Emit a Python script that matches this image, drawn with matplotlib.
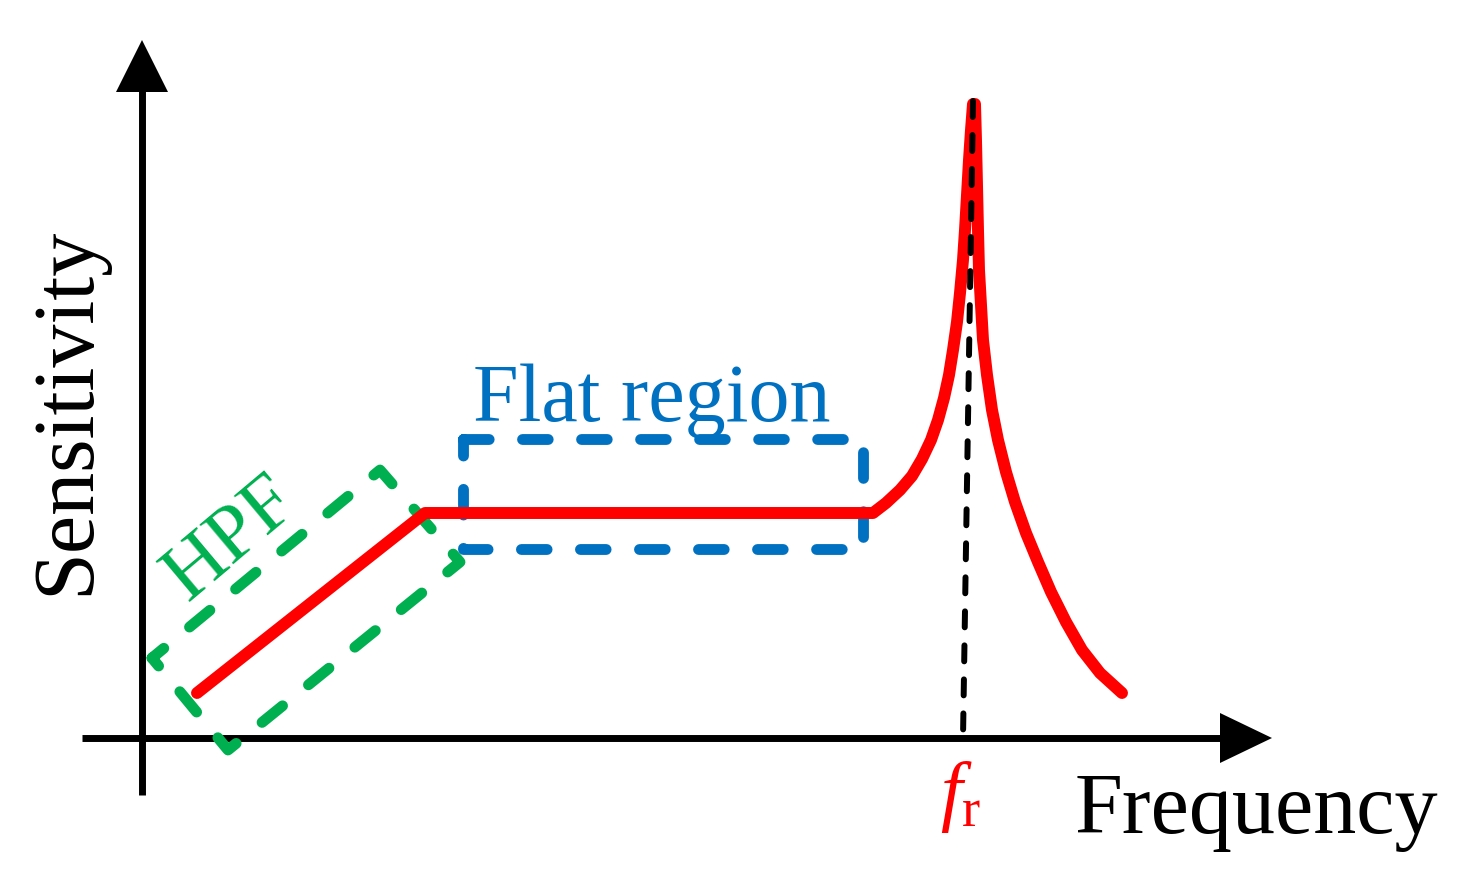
import matplotlib
matplotlib.use("Agg")
import matplotlib.pyplot as plt
import numpy as np

plt.rcParams['font.family'] = ['Liberation Serif', 'DejaVu Serif']
plt.rcParams['mathtext.fontset'] = 'custom'
plt.rcParams['mathtext.rm'] = 'Liberation Serif'
plt.rcParams['mathtext.it'] = 'Liberation Serif:italic'
plt.rcParams['lines.scale_dashes'] = False

# ---- schematic data (arbitrary units; origin at the axes crossing) ----
resp_x = [55, 283, 731, 744, 758, 770, 780, 789, 796, 802, 807, 811, 815, 818,
          821, 823, 825, 827, 829, 831,
          833, 834, 835, 836, 837, 839, 841, 845, 850, 856, 864, 873, 884, 896,
          909, 924, 940, 958, 980]
resp_y = [45, 225, 225, 235, 248, 262, 279, 298, 318, 340, 363, 388, 416, 445,
          478, 508, 543, 578, 608, 634,
          634, 598, 553, 508, 468, 433, 398, 363, 328, 298, 266, 236, 205, 176,
          146, 116, 88, 65, 45]

fr_x = [831, 821]          # resonance marker line
fr_y = [637, 0]

flat_box_x = [321, 721, 721, 321, 321]
flat_box_y = [299, 299, 189, 189, 299]

hpf_box_x = [10, 238, 318, 86, 10]
hpf_box_y = [80, 268, 176, -12, 80]

x_label = "Frequency"
y_label = "Sensitivity"
flat_label = "Flat region"
hpf_label = "HPF"
fr_label = r"$f_{\mathrm{r}}$"

RED = '#FF0000'
BLUE = '#0070C0'
GREEN = '#00B050'

fig = plt.figure(figsize=(14.62, 8.88), dpi=100)
ax = fig.add_axes([0, 0, 1, 1])
ax.set_xlim(-142, 1320)
ax.set_ylim(-150, 738)
ax.axis('off')

# axes with arrowheads
ax.plot([0, 0], [-57, 650], color='k', lw=5, solid_capstyle='butt')
ax.fill([-26, 26, 0], [646, 646, 698], color='k', lw=0)
ax.plot([-60, 1082], [0, 0], color='k', lw=5, solid_capstyle='butt')
ax.fill([1078, 1078, 1130], [-25, 25, 0], color='k', lw=0)

# dashed boxes
ax.plot(hpf_box_x, hpf_box_y, color=GREEN, lw=7.8, linestyle=(8, (19, 24)),
        dash_capstyle='round', dash_joinstyle='round')
ax.plot(flat_box_x, flat_box_y, color=BLUE, lw=7.8, linestyle=(0, (18.5, 24)),
        dash_capstyle='round', dash_joinstyle='round')

# response curve
ax.plot(resp_x, resp_y, color=RED, lw=8.6, solid_capstyle='round',
        solid_joinstyle='round', zorder=3)

# resonance marker
ax.plot(fr_x, fr_y, color='k', lw=4.3, linestyle=(0, (11.5, 13)),
        dash_capstyle='round', zorder=4)

# text
ax.text(-54, 327, y_label, rotation=90, fontsize=62, ha='center', va='baseline',
        rotation_mode='anchor')
ax.text(933, -95, x_label, fontsize=62, ha='left', va='baseline')
ax.text(510, 317, flat_label, fontsize=59, color=BLUE, ha='center', va='baseline')
ax.text(90, 199, hpf_label, fontsize=58, color=GREEN, ha='center', va='center',
        rotation=40, rotation_mode='anchor')
ax.text(819, -78, fr_label, fontsize=56, color=RED, ha='center', va='baseline')

fig.savefig('out.png', dpi=100)
